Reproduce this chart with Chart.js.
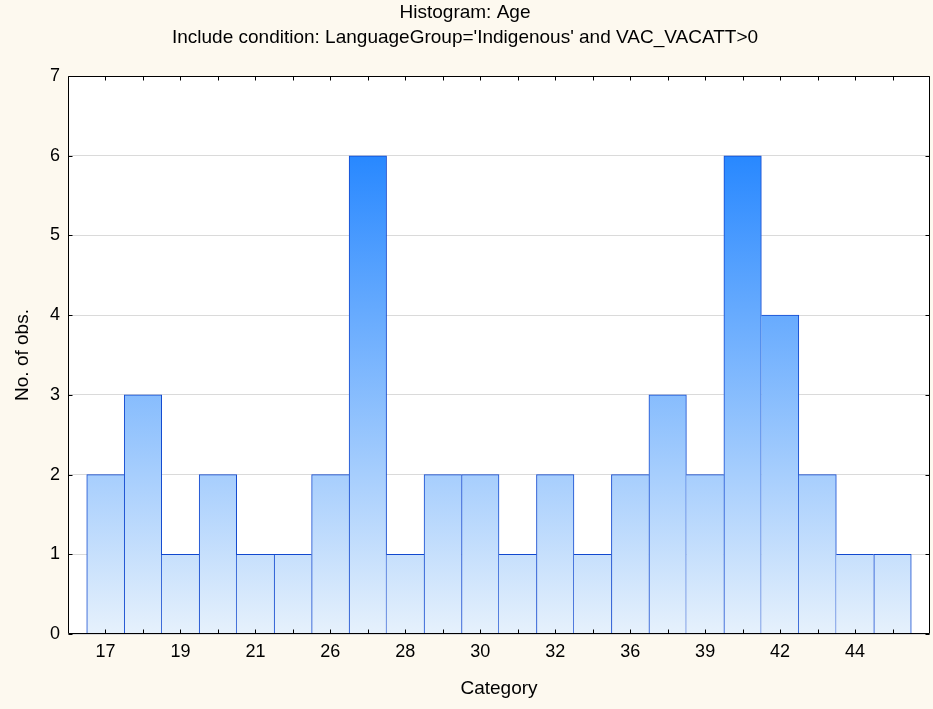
<!DOCTYPE html>
<html>
<head>
<meta charset="utf-8">
<script src="https://cdn.jsdelivr.net/npm/chart.js@4"></script>
<style>
  html, body { margin: 0; padding: 0; background: #fdf9ef; }
  #wrap { width: 933px; height: 709px; }
</style>
</head>
<body>
<div id="wrap"><canvas id="c" width="933" height="709"></canvas></div>
<script>
// ---- data ----
const titleLines = ['Histogram: Age', "Include condition: LanguageGroup='Indigenous' and VAC_VACATT>0"];
const categories = ['17','18','19','20','21','24','26','27','28','29','30','31','32','34','36','38','39','41','42','43','44','45'];
const counts     = [2, 3, 1, 2, 1, 1, 2, 6, 1, 2, 2, 1, 2, 1, 2, 3, 2, 6, 4, 2, 1, 1];
const yTicks     = [0, 1, 2, 3, 4, 5, 6, 7];
const xTitle = 'Category';
const yTitle = 'No. of obs.';

Chart.defaults.font.family = "'Liberation Sans', Arial, sans-serif";
Chart.defaults.color = '#000';

const bgPlugin = {
  id: 'bg',
  beforeDraw(chart) {
    const { ctx, chartArea: a } = chart;
    ctx.save();
    ctx.fillStyle = '#fdf9ef';
    ctx.fillRect(0, 0, chart.width, chart.height);
    ctx.fillStyle = '#ffffff';
    ctx.fillRect(a.left, a.top, a.right - a.left, a.bottom - a.top);
    ctx.restore();
  }
};

const framePlugin = {
  id: 'frame',
  afterDatasetsDraw(chart) {
    const { ctx, chartArea: a, scales } = chart;
    const L = Math.round(a.left) + 0.5, R = Math.round(a.right) - 0.5;
    const T = Math.round(a.top) + 0.5, B = Math.round(a.bottom) - 0.5;
    ctx.save();
    ctx.strokeStyle = '#000';
    ctx.lineWidth = 1;
    ctx.beginPath();
    ctx.rect(L, T, R - L, B - T);
    const tl = 4;
    categories.forEach((c, i) => {
      const x = Math.round(scales.x.getPixelForValue(i + 1)) + 0.5;
      ctx.moveTo(x, B); ctx.lineTo(x, B - tl);
      ctx.moveTo(x, T); ctx.lineTo(x, T + tl);
    });
    yTicks.forEach(v => {
      const y = Math.round(scales.y.getPixelForValue(v)) + 0.5;
      ctx.moveTo(L, y); ctx.lineTo(L + tl, y);
      ctx.moveTo(R, y); ctx.lineTo(R - tl, y);
    });
    ctx.stroke();
    ctx.restore();
  }
};

function barFill(context) {
  const chart = context.chart;
  const { ctx, chartArea, scales } = chart;
  if (!chartArea || !scales.y) return '#8cc0fd';
  const y0 = scales.y.getPixelForValue(0);
  const y6 = scales.y.getPixelForValue(6);
  const g = ctx.createLinearGradient(0, y0, 0, y6);
  g.addColorStop(0, '#e6f1fc');
  g.addColorStop(1, '#2888ff');
  return g;
}

function barBorder(context) {
  const i = context.dataIndex;
  const v = counts[i], prev = counts[i - 1], next = counts[i + 1];
  return {
    top: 1,
    left: (prev === undefined || prev <= v) ? 1 : 0,
    right: (next === undefined || next < v) ? 1 : 0,
    bottom: 0
  };
}

new Chart(document.getElementById('c'), {
  type: 'bar',
  data: {
    datasets: [{
      data: counts.map((v, i) => ({ x: i + 1, y: v })),
      backgroundColor: barFill,
      borderColor: '#1148cf',
      borderWidth: barBorder,
      borderSkipped: 'start',
      barPercentage: 1,
      categoryPercentage: 1
    }]
  },
  options: {
    responsive: false,
    animation: false,
    devicePixelRatio: 1,
    layout: { padding: { left: 0, right: 3, top: 0, bottom: 0 } },
    plugins: {
      legend: { display: false },
      tooltip: { enabled: false },
      title: {
        display: true,
        text: titleLines,
        font: { size: 19, weight: 'normal', lineHeight: '25px' },
        color: '#000',
        padding: { top: 0, bottom: 26 }
      }
    },
    scales: {
      x: {
        type: 'linear',
        min: 0,
        max: 23,
        offset: false,
        grid: { display: false, drawTicks: false, offset: false },
        border: { display: false },
        afterBuildTicks(scale) {
          scale.ticks = categories.map((c, i) => ({ value: i + 1 }));
        },
        afterFit(scale) { scale.height = 75; },
        ticks: {
          autoSkip: false,
          maxRotation: 0,
          padding: 7,
          font: { size: 18 },
          color: '#000',
          callback(value) {
            const i = Math.round(value) - 1;
            return (i % 2 === 0) ? categories[i] : '';
          }
        },
        title: {
          display: true,
          text: xTitle,
          font: { size: 19 },
          color: '#000',
          padding: { top: 0, bottom: 9 }
        }
      },
      y: {
        type: 'linear',
        min: 0,
        max: 7,
        grid: { color: '#dadada', drawTicks: false },
        border: { display: false },
        afterBuildTicks(scale) {
          scale.ticks = yTicks.map(v => ({ value: v }));
        },
        afterFit(scale) { scale.width = 68; },
        ticks: {
          padding: 8,
          font: { size: 18 },
          color: '#000'
        },
        title: {
          display: true,
          text: yTitle,
          font: { size: 19 },
          color: '#000',
          padding: { top: 11, bottom: 0 }
        }
      }
    }
  },
  plugins: [bgPlugin, framePlugin]
});
</script>
</body>
</html>
